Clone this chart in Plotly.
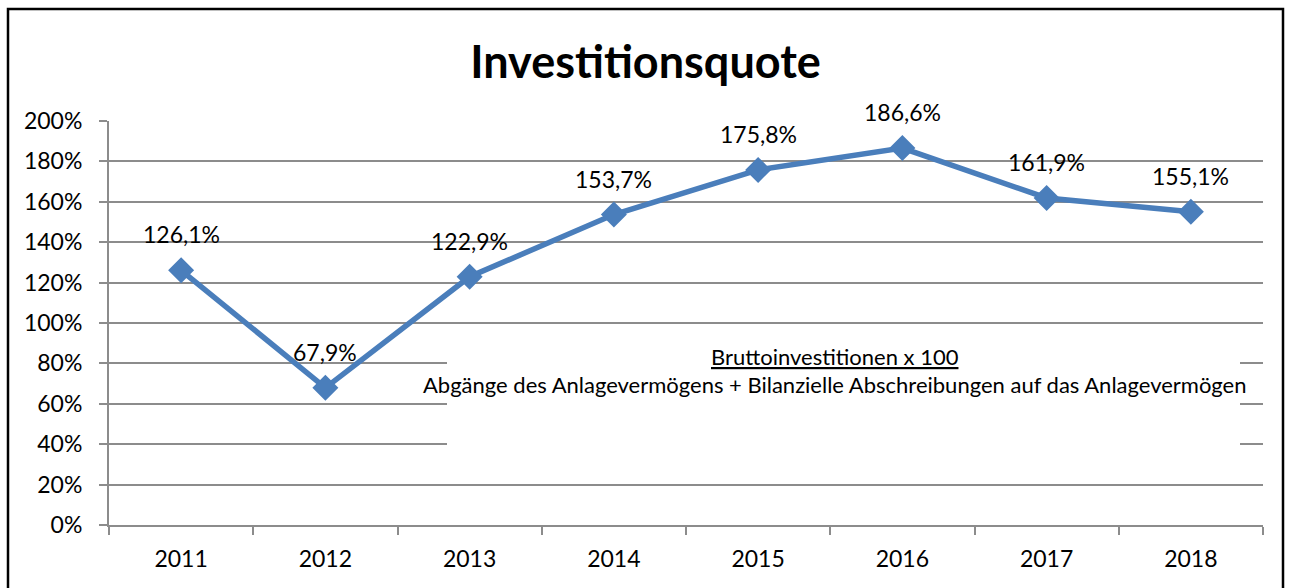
import plotly.graph_objects as go

years = ["2011", "2012", "2013", "2014", "2015", "2016", "2017", "2018"]
quote = [126.1, 67.9, 122.9, 153.7, 175.8, 186.6, 161.9, 155.1]
y_ticks = [0, 20, 40, 60, 80, 100, 120, 140, 160, 180, 200]
title_text = "Investitionsquote"
formula_num = "Bruttoinvestitionen x 100"
formula_den = "Abgänge des Anlagevermögens + Bilanzielle Abschreibungen auf das Anlagevermögen"

PCT = chr(37)
FONT = "Lato"
BLUE = "#4A7EBB"
GRID = "#8C8C8C"

labels = [("{:.1f}".format(v)).replace(".", ",") + PCT for v in quote]
tick_text = [str(t) + PCT for t in y_ticks]

fig = go.Figure()
fig.add_trace(go.Scatter(
    x=years, y=quote, mode="lines+markers",
    line=dict(color=BLUE, width=5.5),
    marker=dict(symbol="diamond", size=20, color=BLUE),
    cliponaxis=False, showlegend=False, hoverinfo="skip",
))

# data labels (category index used as x so numeric-looking names are not misread)
for i, (v, t) in enumerate(zip(quote, labels)):
    fig.add_annotation(x=i, y=v, xref="x", yref="y", text=t, showarrow=False,
                       yshift=36, font=dict(family=FONT, size=23, color="black"))

# white background box of the formula (covers gridlines)
fig.add_annotation(
    xref="paper", yref="y", x=(843.5 - 109) / 1154, y=(525 - 395) / 2.02,
    xanchor="center", yanchor="middle", width=793, height=110,
    bgcolor="white", borderpad=0, borderwidth=0, text=" ", showarrow=False,
)
# formula text
fig.add_annotation(xref="paper", yref="y", x=(835 - 109) / 1154, y=(525 - 356) / 2.02,
                   text="<u>" + formula_num + "</u>", showarrow=False,
                   font=dict(family=FONT, size=22, color="black"))
fig.add_annotation(xref="paper", yref="y", x=(835 - 109) / 1154, y=(525 - 384) / 2.02,
                   text=formula_den, showarrow=False,
                   font=dict(family=FONT, size=22, color="black"))

# outer border
fig.add_shape(type="rect", xref="paper", yref="paper",
              x0=(8 - 109) / 1154, x1=(1283 - 109) / 1154,
              y0=-0.3, y1=(525 - 9) / 404,
              line=dict(color="black", width=2.5), fillcolor="rgba(0,0,0,0)")

fig.update_layout(
    width=1291, height=588,
    margin=dict(l=109, r=28, t=121, b=63),
    paper_bgcolor="white", plot_bgcolor="white",
    title=dict(text="<b>" + title_text + "</b>", x=0.5, xanchor="center",
               y=1 - 62 / 588, yanchor="middle",
               font=dict(family=FONT, size=45, color="black")),
    font=dict(family=FONT, size=22, color="black"),
)
fig.update_xaxes(
    type="category", range=[-0.5, 7.5], tickson="boundaries",
    ticks="outside", ticklen=8, tickcolor=GRID, tickwidth=2,
    showline=True, linecolor=GRID, linewidth=2, showgrid=False,
    tickfont=dict(family=FONT, size=23), ticklabelstandoff=12, fixedrange=True,
)
fig.update_yaxes(
    range=[0, 200], tickvals=y_ticks, ticktext=tick_text,
    ticks="outside", ticklen=8, tickcolor=GRID, tickwidth=2,
    showline=True, linecolor=GRID, linewidth=2,
    showgrid=True, gridcolor=GRID, gridwidth=2, zeroline=False,
    tickfont=dict(family=FONT, size=23), ticklabelstandoff=12, fixedrange=True,
)

post = "document.body.style.margin='0';"
fig.write_html("out.html", post_script=post, config={"displayModeBar": False})
